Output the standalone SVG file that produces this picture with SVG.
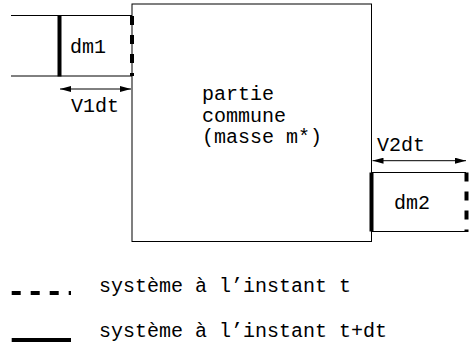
<svg xmlns="http://www.w3.org/2000/svg" width="469" height="346" viewBox="0 0 469 346">
  <style>
    .thin { stroke: #000; stroke-width: 1; fill: none; }
    .thick { stroke: #000; stroke-width: 4; fill: none; }
    .dash { stroke: #000; stroke-width: 4; fill: none; stroke-dasharray: 9 10; }
    .lbl { font-family: "Liberation Mono", "Courier New", monospace; font-size: 20px; fill: #000; }
  </style>
  <defs>
    <marker id="arrow" viewBox="0 0 11 6" refX="11" refY="3" markerWidth="11" markerHeight="6" markerUnits="userSpaceOnUse" orient="auto-start-reverse">
      <path d="M0,0 L11,3 L0,6 Z" fill="#000"/>
    </marker>
  </defs>
  <rect width="469" height="346" fill="#fff"/>

  <!-- common part of the control volume -->
  <g id="partie-commune">
    <rect class="thin" x="132" y="4" width="239.5" height="237.5"/>
    <text class="lbl" x="202" y="100">partie</text>
    <text class="lbl" x="202" y="121.5">commune</text>
    <text class="lbl" x="202" y="143">(masse m*)</text>
  </g>

  <!-- incoming element dm1 -->
  <g id="dm1">
    <line class="thin" x1="11" y1="15.5" x2="132" y2="15.5"/>
    <line class="thin" x1="11" y1="76" x2="132" y2="76"/>
    <line class="thick" x1="59.5" y1="15.5" x2="59.5" y2="76.5"/>
    <line class="dash" x1="132" y1="16" x2="132" y2="76"/>
    <text class="lbl" x="70" y="52.7">dm1</text>
  </g>

  <!-- outgoing element dm2 -->
  <g id="dm2">
    <line class="thin" x1="371" y1="172.5" x2="466" y2="172.5"/>
    <line class="thin" x1="371" y1="231.5" x2="466" y2="231.5"/>
    <line class="thick" x1="371.5" y1="172.5" x2="371.5" y2="231.5"/>
    <line class="dash" x1="466.5" y1="172.5" x2="466.5" y2="232"/>
    <text class="lbl" x="394" y="209">dm2</text>
  </g>

  <!-- displacement arrows -->
  <g id="connectors">
    <line class="thin" x1="60" y1="89" x2="131" y2="89" marker-start="url(#arrow)" marker-end="url(#arrow)"/>
    <line class="thin" x1="372.5" y1="160.7" x2="466" y2="160.7" marker-start="url(#arrow)" marker-end="url(#arrow)"/>
  </g>
  <g id="v1dt"><text class="lbl" x="71" y="112">V1dt</text></g>
  <g id="v2dt"><text class="lbl" x="377" y="151">V2dt</text></g>

  <!-- legend -->
  <g id="legend-t">
    <line class="dash" x1="11.7" y1="293" x2="71" y2="293"/>
    <text class="lbl" x="99" y="292">système à l’instant t</text>
  </g>
  <g id="legend-tdt">
    <line class="thick" x1="11.7" y1="340" x2="71" y2="340"/>
    <text class="lbl" x="99" y="336.5">système à l’instant t+dt</text>
  </g>
</svg>
